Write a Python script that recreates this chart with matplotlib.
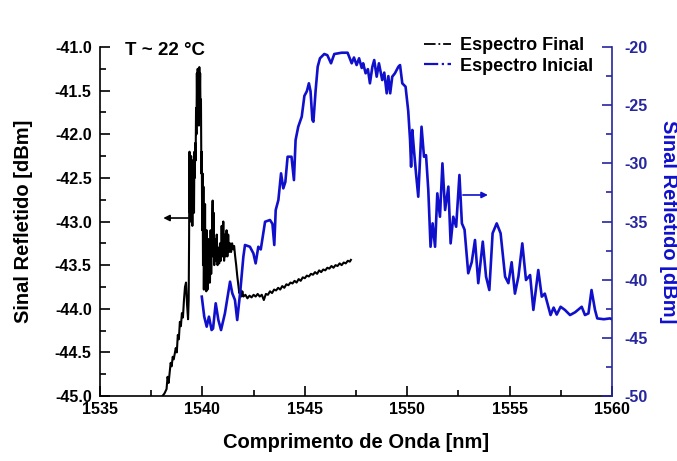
import numpy as np
import matplotlib
matplotlib.use("Agg")
import matplotlib.pyplot as plt
from matplotlib.ticker import MultipleLocator, FormatStrFormatter

plt.rcParams["font.family"] = ["Liberation Sans", "DejaVu Sans"]
plt.rcParams["font.weight"] = "bold"
plt.rcParams["axes.unicode_minus"] = False

# final spectrum (left axis, dBm)
final_wl = [
    1538.05, 1538.15, 1538.25, 1538.3, 1538.35, 1538.45, 1538.5, 1538.55, 1538.6, 1538.7,
    1538.75, 1538.8, 1538.85, 1538.9, 1538.95, 1539.0, 1539.05, 1539.1, 1539.15, 1539.2,
    1539.25, 1539.3, 1539.33, 1539.35, 1539.36, 1539.37, 1539.39, 1539.41, 1539.43, 1539.45,
    1539.47, 1539.49, 1539.51, 1539.53, 1539.55, 1539.57, 1539.59, 1539.61, 1539.63, 1539.65,
    1539.67, 1539.69, 1539.71, 1539.73, 1539.75, 1539.77, 1539.79, 1539.81, 1539.83, 1539.85,
    1539.87, 1539.89, 1539.91, 1539.93, 1539.95, 1539.97, 1539.99, 1540.01, 1540.03, 1540.05,
    1540.07, 1540.09, 1540.11, 1540.13, 1540.15, 1540.17, 1540.19, 1540.21, 1540.23, 1540.25,
    1540.28, 1540.31, 1540.34, 1540.37, 1540.40, 1540.43, 1540.46, 1540.50, 1540.52, 1540.55,
    1540.58, 1540.62, 1540.66, 1540.70, 1540.74, 1540.78, 1540.82, 1540.86, 1540.90, 1540.94,
    1540.98, 1541.02, 1541.06, 1541.10, 1541.14, 1541.18, 1541.22, 1541.26, 1541.30, 1541.35,
    1541.40, 1541.45, 1541.50, 1541.55, 1541.60, 1541.65, 1541.70, 1541.75, 1541.80, 1541.85,
    1541.90, 1541.95, 1542.0, 1542.1, 1542.2, 1542.3, 1542.4, 1542.5, 1542.6, 1542.7,
    1542.8, 1542.9, 1543.0, 1543.1, 1543.2, 1543.3, 1543.4, 1543.5, 1543.6, 1543.7,
    1543.8, 1543.9, 1544.0, 1544.1, 1544.2, 1544.3, 1544.4, 1544.5, 1544.6, 1544.7,
    1544.8, 1544.9, 1545.0, 1545.1, 1545.2, 1545.3, 1545.4, 1545.5, 1545.6, 1545.7,
    1545.8, 1545.9, 1546.0, 1546.1, 1546.2, 1546.3, 1546.4, 1546.5, 1546.6, 1546.7,
    1546.8, 1546.9, 1547.0, 1547.1, 1547.2, 1547.25,
]
final_dbm = [
    -45.0, -44.97, -44.92, -44.78, -44.85, -44.62, -44.66, -44.55, -44.58, -44.45,
    -44.5, -44.3, -44.35, -44.15, -44.2, -44.05, -44.1, -43.9, -43.75, -43.7,
    -43.95, -44.12, -43.9, -43.2, -42.6, -42.2, -42.9, -42.3, -43.0, -42.25,
    -42.8, -42.4, -43.05, -42.3, -42.75, -42.35, -42.9, -42.2, -42.5, -42.1,
    -42.3, -41.7, -42.0, -41.3, -41.8, -41.25, -41.85, -41.5, -41.9, -41.23,
    -41.6, -41.3, -41.8, -41.6, -42.45, -42.2, -43.1, -42.45, -43.5, -42.6,
    -43.78, -43.2, -43.7, -42.8, -43.78, -43.3, -43.8, -43.1, -43.6, -43.78,
    -43.2, -43.7, -43.25, -43.7, -43.1, -43.6, -43.2, -42.76, -43.4, -42.9,
    -43.5, -43.2, -43.45, -43.15, -43.5, -43.3, -43.48, -43.25, -43.45, -43.05,
    -43.4, -43.0, -43.45, -43.15, -43.4, -43.1, -43.4, -43.15, -43.35, -43.25,
    -43.35, -43.25, -43.32, -43.28, -43.4, -43.5, -43.62, -43.72, -43.82, -43.78,
    -43.86, -43.80, -43.86, -43.84, -43.88, -43.85, -43.87, -43.84, -43.86, -43.83,
    -43.86, -43.84, -43.90, -43.83, -43.84, -43.80, -43.82, -43.78, -43.79, -43.76,
    -43.78, -43.74, -43.76, -43.72, -43.73, -43.70, -43.71, -43.68, -43.70, -43.66,
    -43.68, -43.64, -43.65, -43.62, -43.63, -43.60, -43.61, -43.58, -43.60, -43.56,
    -43.58, -43.55, -43.56, -43.53, -43.54, -43.51, -43.53, -43.50, -43.51, -43.48,
    -43.50, -43.47, -43.48, -43.45, -43.46, -43.44,
]

# initial spectrum (right axis, dBm)
initial_wl = [
    1539.97, 1540.09, 1540.21, 1540.32, 1540.45, 1540.52, 1540.65, 1540.78, 1540.91, 1541.1,
    1541.35, 1541.46, 1541.59, 1541.7, 1541.84, 1542.0, 1542.08, 1542.32, 1542.49, 1542.6,
    1542.73, 1542.85, 1543.06, 1543.3, 1543.42, 1543.51, 1543.58, 1543.71, 1543.84, 1543.95,
    1544.05, 1544.16, 1544.35, 1544.47, 1544.55, 1544.68, 1544.85, 1544.98, 1545.1, 1545.2,
    1545.28, 1545.37, 1545.42, 1545.53, 1545.63, 1545.74, 1545.95, 1546.1, 1546.28, 1546.44,
    1546.8, 1547.09, 1547.18, 1547.29, 1547.4, 1547.53, 1547.65, 1547.78, 1547.85, 1547.97,
    1548.08, 1548.18, 1548.3, 1548.39, 1548.51, 1548.62, 1548.78, 1548.88, 1549.0, 1549.08,
    1549.17, 1549.27, 1549.4, 1549.57, 1549.65, 1549.76, 1549.92, 1550.05, 1550.14, 1550.19,
    1550.25, 1550.33, 1550.43, 1550.54, 1550.7, 1550.82, 1550.92, 1551.03, 1551.14, 1551.24,
    1551.36, 1551.47, 1551.6, 1551.72, 1551.85, 1552.01, 1552.12, 1552.25, 1552.39, 1552.55,
    1552.67, 1552.8, 1552.98, 1553.15, 1553.31, 1553.47, 1553.69, 1553.85, 1554.01, 1554.17,
    1554.37, 1554.56, 1554.78, 1554.94, 1555.1, 1555.26, 1555.43, 1555.62, 1555.8, 1556.0,
    1556.16, 1556.4, 1556.57, 1556.72, 1556.89, 1557.0, 1557.15, 1557.3, 1557.49, 1557.7,
    1557.95, 1558.2, 1558.52, 1558.68, 1558.85, 1559.0, 1559.17, 1559.28, 1559.6, 1559.9,
    1560.0,
]
initial_dbm = [
    -41.46, -43.18, -44.04, -43.18, -44.33, -44.2, -42.03, -43.47, -44.33, -42.89,
    -40.17, -41.17, -41.75, -43.47, -41.17, -38.03, -37.02, -37.17, -37.74, -38.6,
    -37.17, -37.4, -35.02, -34.87, -35.2, -37.02, -34.01, -33.15, -30.86, -32.15,
    -31.6, -29.43, -29.43, -31.44, -28.0, -26.85, -25.99, -24.2, -23.8, -23.12,
    -23.8, -26.27, -26.42, -23.7, -21.69, -20.97, -20.6, -20.7, -21.4, -20.6,
    -20.49, -20.49, -20.9, -21.4, -20.9, -21.55, -20.97, -21.8, -21.4, -22.26,
    -21.9, -23.12, -21.69, -21.12, -22.55, -21.4, -22.84, -22.2, -23.98, -22.5,
    -23.98, -22.55, -22.26, -21.69, -21.55, -23.12, -23.41, -25.5, -28.0, -30.29,
    -27.13, -28.85, -30.86, -32.87, -26.85, -29.43, -29.3, -32.29, -37.17, -35.16,
    -37.17, -32.58, -34.59, -30.0, -34.01, -32.0, -36.88, -34.59, -35.45, -31.0,
    -35.16, -35.7, -39.45, -38.5, -36.59, -40.3, -36.73, -39.74, -40.89, -36.01,
    -35.16, -36.01, -39.74, -40.3, -38.5, -41.2, -39.74, -36.88, -40.03, -39.6,
    -42.6, -39.17, -41.46, -41.2, -42.33, -43.04, -42.4, -43.0, -42.33, -42.6,
    -43.04, -42.8, -42.33, -43.04, -42.9, -40.89, -42.6, -43.33, -43.4, -43.33,
    -43.4,
]

blue = "#1010cc"
axis_blue = "#26269e"

fig = plt.figure(figsize=(6.77, 4.61), dpi=100)
ax = fig.add_axes([0.1477, 0.141, 0.7563, 0.757])
ax2 = ax.twinx()

ax.plot(final_wl, final_dbm, color="black", lw=1.5)
ax2.plot(initial_wl, initial_dbm, color=blue, lw=1.9)

ax.set_xlim(1535, 1560)
ax.set_ylim(-45.0, -41.0)
ax2.set_ylim(-50, -20)

ax.xaxis.set_major_locator(MultipleLocator(5))
ax.xaxis.set_minor_locator(MultipleLocator(2.5))
ax.yaxis.set_major_locator(MultipleLocator(0.5))
ax.yaxis.set_minor_locator(MultipleLocator(0.25))
ax2.yaxis.set_major_locator(MultipleLocator(5))
ax2.yaxis.set_minor_locator(MultipleLocator(2.5))
ax.yaxis.set_major_formatter(FormatStrFormatter("%.1f"))

ax.tick_params(which="both", direction="in", labelsize=11.5, width=1.2)
ax.tick_params(which="major", length=7)
ax.tick_params(which="minor", length=4)
ax.tick_params(axis="y", pad=6)
ax.tick_params(axis="x", pad=4)
ax2.tick_params(which="both", direction="in", labelsize=11.5, width=1.2,
                colors=axis_blue)
ax2.tick_params(which="major", length=7, pad=9)
ax2.tick_params(which="minor", length=4)

for a in (ax, ax2):
    a.spines["top"].set_visible(False)
ax.spines["left"].set_linewidth(1.2)
ax.spines["bottom"].set_linewidth(1.2)
ax.spines["right"].set_visible(False)
ax2.spines["left"].set_visible(False)
ax2.spines["bottom"].set_visible(False)
ax2.spines["right"].set_color(axis_blue)
ax2.spines["right"].set_linewidth(1.2)

ax.set_xlabel("Comprimento de Onda [nm]", fontsize=14.5, fontweight="bold", labelpad=12)
ax.set_ylabel("Sinal Refletido [dBm]", fontsize=14.5, fontweight="bold", labelpad=15.5)
ax2.set_ylabel("Sinal Refletido [dBm]", fontsize=14.5, fontweight="bold",
               color=blue, rotation=270, labelpad=22)

ax.text(0.049, 0.99, "T ~ 22 °C", transform=ax.transAxes, fontsize=13.5,
        fontweight="bold", va="center", ha="left")

# arrows pointing to the axis of each curve
ax.annotate("", xy=(1538.09, -42.96), xytext=(1539.31, -42.96),
            arrowprops=dict(arrowstyle="-|>", color="black", lw=1.2,
                            mutation_scale=9, shrinkA=0, shrinkB=0))
ax2.annotate("", xy=(1553.94, -32.72), xytext=(1552.72, -32.72),
             arrowprops=dict(arrowstyle="-|>", color=blue, lw=1.2,
                             mutation_scale=9, shrinkA=0, shrinkB=0))

h1 = plt.Line2D([], [], color="black", lw=1.3, ls="-.")
h2 = plt.Line2D([], [], color=blue, lw=1.6, ls="-.")
ax2.legend([h1, h2], ["Espectro Final", "Espectro Inicial"], loc="upper right",
           bbox_to_anchor=(0.995, 1.075), frameon=False, fontsize=13,
           handlelength=1.5, handletextpad=0.5, labelspacing=0.2)

fig.savefig("out.png", dpi=100)
